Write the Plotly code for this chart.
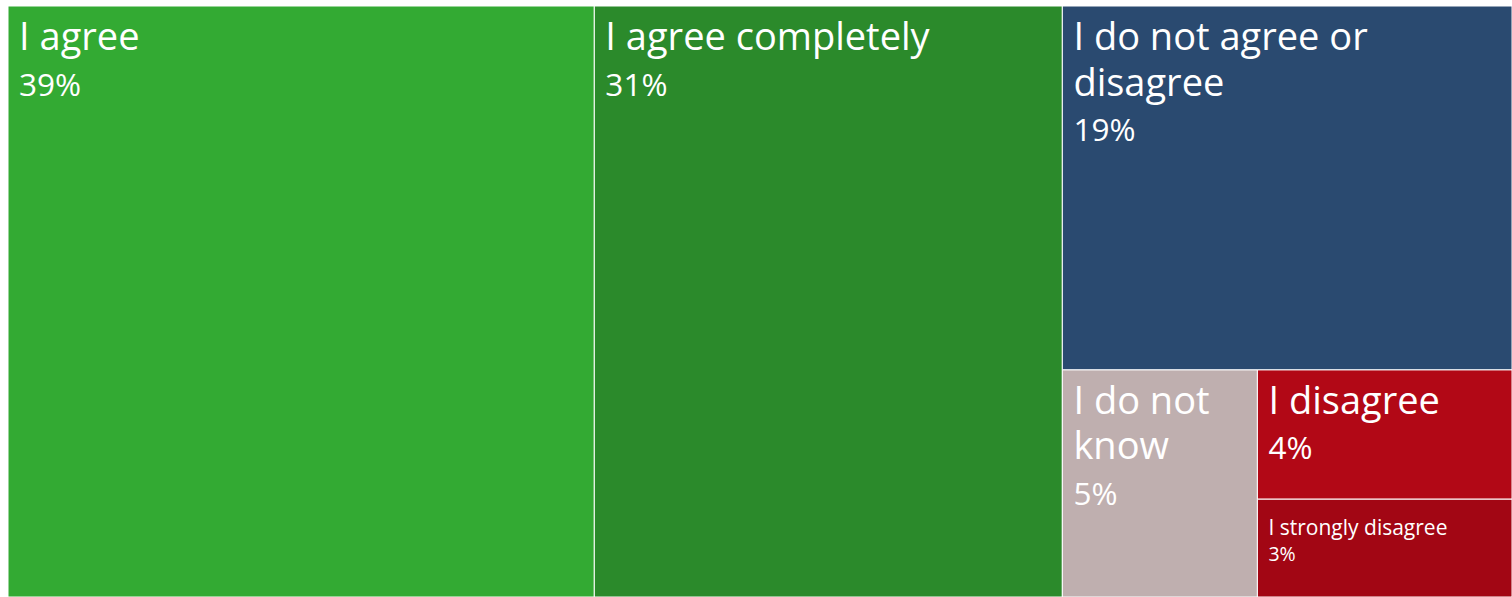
import plotly.graph_objects as go

categories = ["I agree", "I agree completely", "I do not agree or disagree",
              "I do not know", "I disagree", "I strongly disagree"]
display_lines = [["I agree"], ["I agree completely"], ["I do not agree or", "disagree"],
                 ["I do not", "know"], ["I disagree"], ["I strongly disagree"]]
values = [38.96, 31.1, 18.4, 4.98, 3.7, 2.8]
pct_labels = ["39%", "31%", "19%", "5%", "4%", "3%"]
colors = ["#33aa33", "#2b8a2b", "#2a4a70", "#bfafaf", "#b20816", "#a20614"]
label_sizes = [38, 38, 38, 38, 38, 21]
pct_sizes = [31.5, 31.5, 31.5, 31.5, 31.5, 19.5]
line_sizes = [35, 35, 35, 35, 35, 20]

indent = "<span style='font-size:31px'>&nbsp;</span>"
texts = []
for lines, p, ls, ps in zip(display_lines, pct_labels, label_sizes, pct_sizes):
    parts = [f"{indent}<span style='font-size:{ls}px'>{ln}</span>" for ln in lines]
    parts.append(f"{indent}<span style='font-size:{ps}px'>{p}</span>")
    texts.append("<br>".join(parts))

fig = go.Figure(go.Treemap(
    labels=categories,
    parents=[""] * len(categories),
    values=values,
    text=texts,
    texttemplate="%{text}",
    textposition="top left",
    textfont=dict(family="Open Sans", color="white", size=line_sizes),
    marker=dict(colors=colors, line=dict(color="white", width=1),
                pad=dict(t=0, l=0, r=0, b=0)),
    tiling=dict(packing="squarify", pad=0, squarifyratio=1.618),
    pathbar=dict(visible=False),
    sort=True,
    domain=dict(x=[0, 1], y=[0, 1]),
    hoverinfo="label",
))
fig.update_layout(
    width=1512, height=597,
    margin=dict(l=8, r=0, t=6, b=0),
    paper_bgcolor="white",
    font=dict(family="Open Sans"),
    uniformtext=dict(minsize=8),
)
fig.write_html(
    "out.html",
    config={"displayModeBar": False},
    post_script="document.body.style.margin='0';document.body.style.overflow='hidden';",
)
